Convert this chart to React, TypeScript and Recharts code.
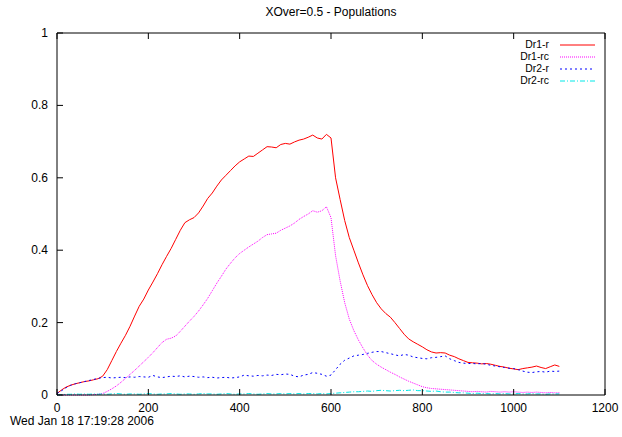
import { LineChart, Line, XAxis, YAxis } from 'recharts'

// generation number (x), one sample every 10
const generations = [
  0, 10, 20, 30, 40, 50, 60, 70, 80, 90,
  100, 110, 120, 130, 140, 150, 160, 170, 180, 190,
  200, 210, 220, 230, 240, 250, 260, 270, 280, 290,
  300, 310, 320, 330, 340, 350, 360, 370, 380, 390,
  400, 410, 420, 430, 440, 450, 460, 470, 480, 490,
  500, 510, 520, 530, 540, 550, 560, 570, 580, 590,
  600, 610, 620, 630, 640, 650, 660, 670, 680, 690,
  700, 710, 720, 730, 740, 750, 760, 770, 780, 790,
  800, 810, 820, 830, 840, 850, 860, 870, 880, 890,
  900, 910, 920, 930, 940, 950, 960, 970, 980, 990,
  1000, 1010, 1020, 1030, 1040, 1050, 1060, 1070, 1080, 1090,
  1100
]

const dr1r = [
  0.004, 0.014, 0.022, 0.027, 0.031, 0.034, 0.037, 0.039, 0.042, 0.045,
  0.052, 0.07, 0.095, 0.12, 0.143, 0.165, 0.19, 0.218, 0.245, 0.265,
  0.29, 0.312, 0.335, 0.36, 0.383, 0.405, 0.43, 0.455, 0.476, 0.484,
  0.49, 0.503, 0.522, 0.543, 0.558, 0.577, 0.594, 0.607, 0.62, 0.633,
  0.644, 0.652, 0.66, 0.659, 0.668, 0.677, 0.686, 0.685, 0.683, 0.692,
  0.695, 0.693, 0.699, 0.704, 0.707, 0.712, 0.718, 0.71, 0.707, 0.72,
  0.71, 0.6, 0.54, 0.482, 0.435, 0.4, 0.365, 0.332, 0.302, 0.277,
  0.255, 0.238, 0.225, 0.215, 0.2, 0.184, 0.168, 0.155, 0.147, 0.14,
  0.133, 0.125, 0.119, 0.116, 0.117, 0.116, 0.11, 0.106, 0.1, 0.095,
  0.09, 0.089, 0.088, 0.086, 0.087, 0.085, 0.082, 0.079, 0.077, 0.074,
  0.072, 0.07, 0.073, 0.075, 0.077, 0.08, 0.076, 0.073, 0.078, 0.083,
  0.079
]

const dr1rc = [
  0, 0, 0, 0, 0, 0, 0, 0, 0.001, 0.002,
  0.004, 0.01, 0.017, 0.025, 0.035, 0.046, 0.057, 0.068, 0.08, 0.092,
  0.104, 0.117, 0.131, 0.145, 0.154, 0.157, 0.163, 0.176, 0.19, 0.204,
  0.217, 0.232, 0.249, 0.267, 0.288, 0.309, 0.328, 0.348, 0.364, 0.379,
  0.391, 0.4, 0.409, 0.417, 0.425, 0.435, 0.443, 0.445, 0.447, 0.455,
  0.461, 0.467, 0.475, 0.485, 0.493, 0.5, 0.509, 0.505, 0.509, 0.52,
  0.49, 0.385, 0.315, 0.255, 0.21, 0.178, 0.152, 0.13, 0.11, 0.095,
  0.085, 0.077, 0.07, 0.063, 0.057, 0.05, 0.044, 0.038, 0.033, 0.028,
  0.023, 0.02, 0.018, 0.017, 0.016, 0.015, 0.014, 0.013, 0.012, 0.011,
  0.01, 0.009, 0.01, 0.009, 0.008, 0.01, 0.009, 0.008, 0.009, 0.008,
  0.009, 0.008, 0.007, 0.008, 0.007, 0.008, 0.007, 0.006, 0.007, 0.006,
  0.006
]

const dr2r = [
  0.004, 0.012, 0.02, 0.027, 0.031, 0.034, 0.037, 0.04, 0.043, 0.046,
  0.048, 0.049, 0.047, 0.048, 0.049, 0.048, 0.05, 0.049, 0.051, 0.05,
  0.049, 0.054, 0.05, 0.048, 0.05, 0.052, 0.051, 0.053, 0.05, 0.052,
  0.051, 0.049, 0.05, 0.048, 0.049, 0.047, 0.048, 0.049, 0.047, 0.048,
  0.05, 0.055, 0.053, 0.052, 0.054, 0.053, 0.055, 0.054, 0.057, 0.056,
  0.058, 0.057, 0.052, 0.05, 0.055, 0.057, 0.062, 0.06, 0.057, 0.052,
  0.055, 0.07, 0.085, 0.096, 0.102, 0.108, 0.11, 0.112, 0.115, 0.118,
  0.12, 0.12, 0.117, 0.114, 0.111, 0.108, 0.112, 0.11, 0.105, 0.103,
  0.101, 0.1, 0.103, 0.104, 0.106, 0.108, 0.1, 0.095, 0.09, 0.088,
  0.087, 0.087, 0.086, 0.087, 0.085, 0.082, 0.08, 0.078, 0.076, 0.074,
  0.073, 0.07, 0.066, 0.063, 0.062, 0.064, 0.065, 0.063, 0.066, 0.065,
  0.066
]

const dr2rc = [
  0, 0.001, 0.002, 0.002, 0.003, 0.002, 0.003, 0.002, 0.003, 0.002,
  0.003, 0.002, 0.003, 0.004, 0.003, 0.002, 0.003, 0.003, 0.002, 0.003,
  0.004, 0.003, 0.002, 0.003, 0.003, 0.004, 0.003, 0.002, 0.003, 0.003,
  0.002, 0.003, 0.004, 0.003, 0.003, 0.002, 0.003, 0.004, 0.003, 0.002,
  0.003, 0.003, 0.004, 0.003, 0.002, 0.003, 0.004, 0.003, 0.003, 0.004,
  0.003, 0.004, 0.003, 0.004, 0.003, 0.004, 0.004, 0.003, 0.004, 0.003,
  0.004, 0.005, 0.006, 0.007, 0.008, 0.009, 0.009, 0.01, 0.011, 0.01,
  0.012, 0.013, 0.012, 0.011, 0.012, 0.013, 0.012, 0.013, 0.014, 0.012,
  0.012, 0.011, 0.01, 0.011, 0.009, 0.008, 0.008, 0.007, 0.006, 0.006,
  0.005, 0.004, 0.005, 0.004, 0.004, 0.003, 0.004, 0.003, 0.004, 0.003,
  0.003, 0.004, 0.003, 0.003, 0.004, 0.003, 0.003, 0.002, 0.003, 0.003,
  0.003
]

const xTicks = [0, 200, 400, 600, 800, 1000, 1200]
const yTicks = [0, 0.2, 0.4, 0.6, 0.8, 1]

const series = [
  { key: 'dr1r', name: 'Dr1-r', color: '#ff0000', dash: undefined },
  { key: 'dr1rc', name: 'Dr1-rc', color: '#ff00ff', dash: '1 1' },
  { key: 'dr2r', name: 'Dr2-r', color: '#0000ff', dash: '2 3' },
  { key: 'dr2rc', name: 'Dr2-rc', color: '#00e8e8', dash: '5 2 1 2' }
]

const data = generations.map((g, i) => ({
  gen: g,
  dr1r: dr1r[i],
  dr1rc: dr1rc[i],
  dr2r: dr2r[i],
  dr2rc: dr2rc[i]
}))

const FONT = '"Liberation Sans", Arial, sans-serif'
const TICK = 6

// gnuplot-style inward ticks, labels outside
const BottomTick = ({ x, y, payload }: any) => (
  <g>
    <line x1={x} x2={x} y1={y} y2={y - TICK} stroke="#000" />
    <text x={x} y={y + 17} textAnchor="middle" fontSize={12} fontFamily={FONT} fill="#000">
      {payload.value}
    </text>
  </g>
)

const TopTick = ({ x, y }: any) => <line x1={x} x2={x} y1={y} y2={y + TICK} stroke="#000" />

const LeftTick = ({ x, y, payload }: any) => (
  <g>
    <line x1={x} x2={x + TICK} y1={y} y2={y} stroke="#000" />
    <text x={x - 9} y={y + 4} textAnchor="end" fontSize={12} fontFamily={FONT} fill="#000">
      {payload.value}
    </text>
  </g>
)

const RightTick = ({ x, y }: any) => <line x1={x} x2={x - TICK} y1={y} y2={y} stroke="#000" />

export default function App() {
  return (
    <div style={{ position: 'absolute', left: 0, top: 0, width: 622, height: 437, background: '#fff', fontFamily: FONT }}>
      <div style={{ position: 'absolute', top: 5, left: 0, width: 662, textAlign: 'center', fontSize: 12, lineHeight: '14px' }}>
        XOver=0.5 - Populations
      </div>

      <LineChart width={622} height={437} data={data} margin={{ top: 23, right: 7, bottom: 12, left: 7 }}>
        <XAxis
          dataKey="gen"
          type="number"
          domain={[0, 1200]}
          ticks={xTicks}
          height={30}
          tickSize={0}
          tickMargin={0}
          tick={<BottomTick />}
          axisLine={{ stroke: '#000' }}
          tickLine={false}
        />
        <XAxis
          xAxisId="top"
          orientation="top"
          dataKey="gen"
          type="number"
          domain={[0, 1200]}
          ticks={xTicks}
          height={10}
          tickSize={0}
          tickMargin={0}
          tick={<TopTick />}
          axisLine={{ stroke: '#000' }}
          tickLine={false}
        />
        <YAxis
          type="number"
          domain={[0, 1]}
          ticks={yTicks}
          width={50}
          tickSize={0}
          tickMargin={0}
          tick={<LeftTick />}
          axisLine={{ stroke: '#000' }}
          tickLine={false}
        />
        <YAxis
          yAxisId="right"
          orientation="right"
          type="number"
          domain={[0, 1]}
          ticks={yTicks}
          width={10}
          tickSize={0}
          tickMargin={0}
          tick={<RightTick />}
          axisLine={{ stroke: '#000' }}
          tickLine={false}
        />
        {series.map((s) => (
          <Line
            key={s.key}
            type="linear"
            dataKey={s.key}
            name={s.name}
            stroke={s.color}
            strokeWidth={1}
            strokeDasharray={s.dash}
            dot={false}
            isAnimationActive={false}
          />
        ))}
      </LineChart>

      {/* key, top right inside the frame */}
      <div style={{ position: 'absolute', top: 39, left: 440, width: 155 }}>
        {series.map((s) => (
          <div key={s.key} style={{ display: 'flex', alignItems: 'center', justifyContent: 'flex-end', height: 12, fontSize: 10.4, lineHeight: '12px' }}>
            <span style={{ marginRight: 10 }}>{s.name}</span>
            <svg width={36} height={6}>
              <line x1={1} x2={36} y1={3} y2={3} stroke={s.color} strokeDasharray={s.dash} />
            </svg>
          </div>
        ))}
      </div>

      <div style={{ position: 'absolute', top: 414, left: 10, fontSize: 12, lineHeight: '14px' }}>
        Wed Jan 18 17:19:28 2006
      </div>
    </div>
  )
}
